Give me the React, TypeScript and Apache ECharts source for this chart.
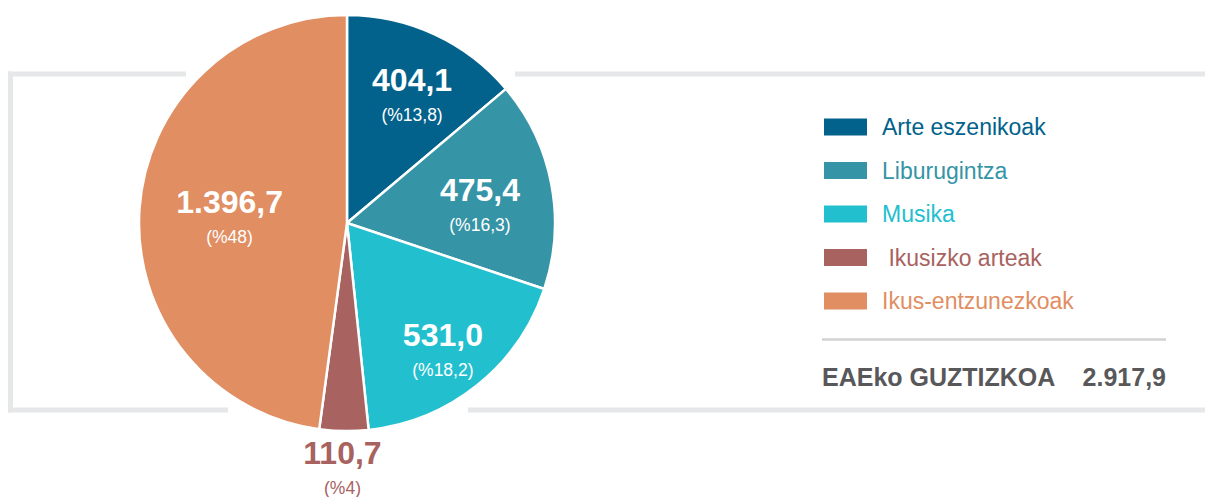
import React, { useEffect, useRef } from "react";
import * as echarts from "echarts";

const categories = ["Arte eszenikoak", "Liburugintza", "Musika", "Ikusizko arteak", "Ikus-entzunezkoak"];
const values = [404.1, 475.4, 531.0, 110.7, 1396.7];
const pctLabels = ["%13,8", "%16,3", "%18,2", "%4", "%48"];
const colors = ["#02628c", "#3594a6", "#22bfcf", "#a8625f", "#e08e62"];
const totalLabel = "EAEko GUZTIZKOA";
const totalValue = 2917.9;

// label placement (style): radial distance as fraction of radius, and angular nudge in degrees
const labelRadius = [0.686, 0.644, 0.769, 1.185, 0.565];
const labelNudge = [2.2, 3.7, 1.9, 0.2, -1.6];

const FONT = "'Liberation Sans', Arial, Helvetica, sans-serif";
const CX = 347;
const CY = 223;
const R = 208;
const FRAME = "#e6e7e8";

function fmt(v: number): string {
  const [i, d] = v.toFixed(1).split(".");
  const int = i.replace(/\B(?=(\d{3})+(?!\d))/g, ".");
  return `${int},${d}`;
}

const total = values.reduce((a, b) => a + b, 0);
const midAngles: number[] = [];
{
  let cum = 0;
  values.forEach((v) => {
    const a = (v / total) * 360;
    midAngles.push(cum + a / 2);
    cum += a;
  });
}

export default function App() {
  const ref = useRef<HTMLDivElement>(null);
  useEffect(() => {
    if (!ref.current) return;
    const chart = echarts.init(ref.current, undefined, { renderer: "svg" });
    const line = (x1: number, y1: number, x2: number, y2: number) => ({
      type: "line",
      silent: true,
      shape: { x1, y1, x2, y2 },
      style: { stroke: FRAME, lineWidth: 5 },
    });
    chart.setOption({
      animation: false,
      backgroundColor: "#ffffff",
      textStyle: { fontFamily: FONT },
      graphic: [
        line(10.5, 71.5, 10.5, 412.5),
        line(8, 74, 186, 74),
        line(515, 74, 1205, 74),
        line(8, 410, 228, 410),
        line(468, 410, 1205, 410),
        {
          type: "line",
          silent: true,
          shape: { x1: 822, y1: 339.5, x2: 1166, y2: 339.5 },
          style: { stroke: "#d2d2d2", lineWidth: 2.5 },
        },
        {
          type: "text",
          x: 822,
          y: 377,
          style: {
            text: totalLabel,
            fill: "#58585a",
            font: `bold 25px ${FONT}`,
            align: "left",
            verticalAlign: "middle",
          },
        },
        {
          type: "text",
          x: 1166,
          y: 377,
          style: {
            text: fmt(totalValue),
            fill: "#58585a",
            font: `bold 25px ${FONT}`,
            align: "right",
            verticalAlign: "middle",
          },
        },
      ],
      legend: {
        orient: "vertical",
        left: 822,
        top: 115.5,
        padding: 0,
        itemWidth: 45,
        itemHeight: 19,
        itemGap: 20.5,
        icon: "rect",
        selectedMode: false,
        data: categories.map((n, i) => ({ name: n, textStyle: { color: colors[i] } })),
        formatter: (n: string) => (n === "Ikusizko arteak" ? " " + n : n),
        textStyle: { fontSize: 23, fontFamily: FONT, lineHeight: 23, padding: [0, 0, 0, 9] },
      },
      series: [
        {
          type: "pie",
          center: [CX, CY],
          radius: R,
          startAngle: 90,
          clockwise: true,
          silent: true,
          emphasis: { disabled: true },
          itemStyle: { borderColor: "#ffffff", borderWidth: 2.5 },
          labelLine: { show: false },
          label: {
            show: true,
            position: "inside",
            fontFamily: FONT,
            formatter: (p: any) => `{v|${fmt(values[p.dataIndex])}}\n{p|(${pctLabels[p.dataIndex]})}`,
            rich: {
              v: { fontSize: 32, fontWeight: "bold", lineHeight: 38, fontFamily: FONT },
              p: { fontSize: 17.5, lineHeight: 32, fontFamily: FONT },
            },
          },
          labelLayout: (p: any) => {
            const i = p.dataIndex;
            const a = ((midAngles[i] + labelNudge[i]) * Math.PI) / 180;
            const d = labelRadius[i] * R;
            return {
              x: CX + d * Math.sin(a),
              y: CY - d * Math.cos(a),
              align: "center",
              verticalAlign: "middle",
            };
          },
          data: categories.map((n, i) => ({
            name: n,
            value: values[i],
            itemStyle: { color: colors[i] },
            label: { color: i === 3 ? colors[3] : "#ffffff" },
          })),
        },
      ],
    });
    return () => chart.dispose();
  }, []);
  return (
    <div
      ref={ref}
      style={{ position: "absolute", left: 0, top: 0, width: 1205, height: 497 }}
    />
  );
}
